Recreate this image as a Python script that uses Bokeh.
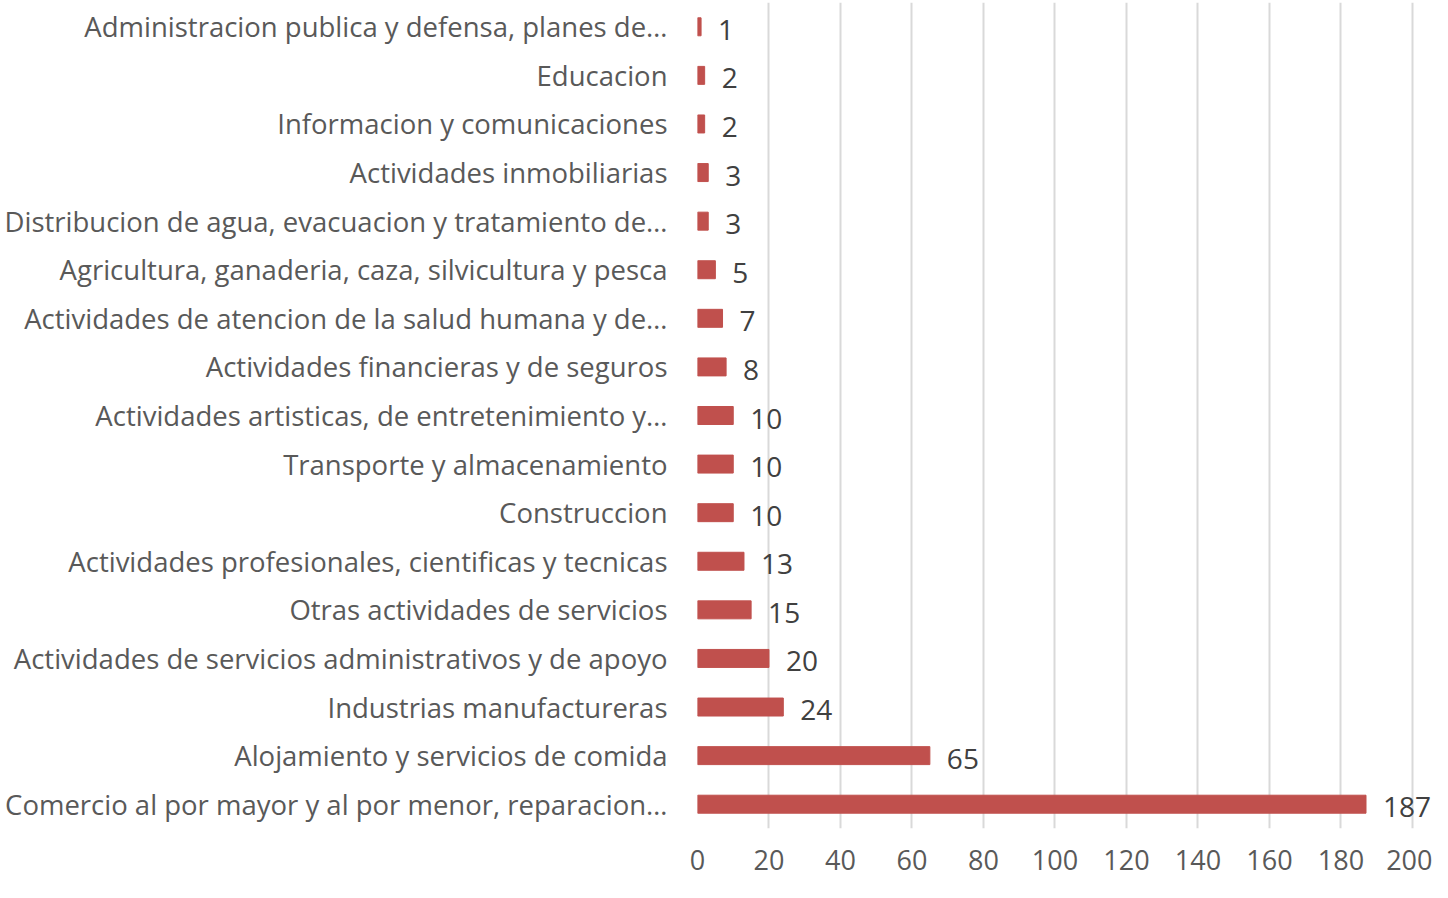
from bokeh.plotting import figure
from bokeh.models import Range1d, FactorRange, ColumnDataSource, FixedTicker
from bokeh.core.properties import value
from bokeh.embed import file_html
from bokeh.resources import INLINE

categories = [
    "Administracion publica y defensa, planes de…",
    "Educacion",
    "Informacion y comunicaciones",
    "Actividades inmobiliarias",
    "Distribucion de agua, evacuacion y tratamiento de…",
    "Agricultura, ganaderia, caza, silvicultura y pesca",
    "Actividades de atencion de la salud humana y de…",
    "Actividades financieras y de seguros",
    "Actividades artisticas, de entretenimiento y…",
    "Transporte y almacenamiento",
    "Construccion",
    "Actividades profesionales, cientificas y tecnicas",
    "Otras actividades de servicios",
    "Actividades de servicios administrativos y de apoyo",
    "Industrias manufactureras",
    "Alojamiento y servicios de comida",
    "Comercio al por mayor y al por menor, reparacion…",
]
counts = [1, 2, 2, 3, 3, 5, 7, 8, 10, 10, 10, 13, 15, 20, 24, 65, 187]
x_ticks = [0, 20, 40, 60, 80, 100, 120, 140, 160, 180, 200]

FONT = "Open Sans"
src = ColumnDataSource(dict(cat=categories, val=counts, lab=[str(v) for v in counts]))

p = figure(
    y_range=FactorRange(factors=list(reversed(categories))),
    x_range=Range1d(0, 205.6),
    frame_width=735, frame_height=826,
    min_border_left=697, min_border_right=0, min_border_top=2, min_border_bottom=53,
    output_backend="svg", toolbar_location=None,
)
p.outline_line_color = None
p.background_fill_color = "white"
p.border_fill_color = "white"

p.hbar(y="cat", right="val", left=0, height=0.37, color="#C0504D", source=src)
p.text(x="val", y="cat", text="lab", source=src, x_offset=17, y_offset=3,
       text_baseline="middle", text_align="left", text_font=value(FONT),
       text_font_size="28px", text_color="#404040")

p.ygrid.grid_line_color = None
p.xgrid.grid_line_color = "#D9D9D9"
p.xgrid.grid_line_width = 2
p.xaxis.ticker = FixedTicker(ticks=x_ticks)
for ax in (p.xaxis, p.yaxis):
    ax.axis_line_color = None
    ax.major_tick_line_color = None
    ax.minor_tick_line_color = None
    ax.major_label_text_font = FONT
    ax.major_label_text_color = "#595959"
p.yaxis.major_label_text_font_size = "27.5px"
p.xaxis.major_label_text_font_size = "27px"
p.xaxis.major_label_standoff = 15
p.yaxis.major_label_standoff = 24

open("out.html", "w").write(file_html(p, INLINE))
